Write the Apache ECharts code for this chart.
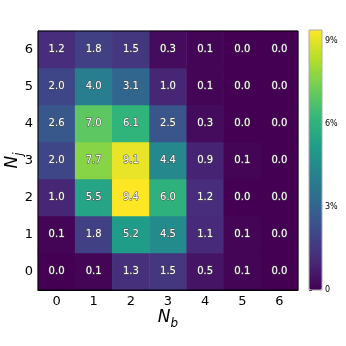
<!DOCTYPE html>
<html><head><meta charset="utf-8">
<script src="https://cdn.jsdelivr.net/npm/echarts@6/dist/echarts.min.js"></script>
<style>html,body{margin:0;padding:0;background:#fff}#c{width:346px;height:346px}</style>
</head><body><div id="c"></div>
<script>
var nbCategories = ['0','1','2','3','4','5','6'];
var njCategories = ['0','1','2','3','4','5','6'];
// rows indexed by Nj (0..6), columns by Nb (0..6)
var row0 = [0.0, 0.1, 1.3, 1.5, 0.5, 0.1, 0.0];
var row1 = [0.1, 1.8, 5.2, 4.5, 1.1, 0.1, 0.0];
var row2 = [1.0, 5.5, 9.4, 6.0, 1.2, 0.0, 0.0];
var row3 = [2.0, 7.7, 9.1, 4.4, 0.9, 0.1, 0.0];
var row4 = [2.6, 7.0, 6.1, 2.5, 0.3, 0.0, 0.0];
var row5 = [2.0, 4.0, 3.1, 1.0, 0.1, 0.0, 0.0];
var row6 = [1.2, 1.8, 1.5, 0.3, 0.1, 0.0, 0.0];
var colorbarTicks = [0, 3, 6, 9];
var colorMax = 9.4;

var rows = [row0, row1, row2, row3, row4, row5, row6];
var data = [];
rows.forEach(function (r, j) { r.forEach(function (v, b) { data.push([b, j, v]); }); });

var viridis = ['#440154','#482878','#3e4989','#31688e','#26828e','#1f9e89','#35b779','#6ece58','#b5de2b','#fde725'];
var font = 'DejaVu Sans';
var chart = echarts.init(document.getElementById('c'), null, {renderer: 'canvas'});
var richName = {
  n: {fontSize: 17, fontStyle: 'italic', fontFamily: font, color: '#000', verticalAlign: 'bottom', lineHeight: 20},
  s: {fontSize: 12, fontStyle: 'italic', fontFamily: font, color: '#000', verticalAlign: 'bottom', lineHeight: 20, padding: [0,0,-4,0]}
};
chart.setOption({
  animation: false,
  textStyle: {fontFamily: font},
  grid: [
    {left: 38, top: 31, width: 260, height: 259, containLabel: false, outerBoundsMode: 'none', show: true, borderColor: '#000', borderWidth: 1, z: 10, backgroundColor: 'transparent'},
    {left: 309, top: 30, width: 13, height: 260, containLabel: false, outerBoundsMode: 'none', show: true, borderColor: '#aaa', borderWidth: 1, z: 10, backgroundColor: 'transparent'}
  ],
  xAxis: [
    {type: 'category', gridIndex: 0, data: nbCategories, position: 'bottom',
     axisLine: {lineStyle: {color: '#000'}}, axisTick: {alignWithLabel: true, length: 4, lineStyle: {color: '#000'}},
     axisLabel: {color: '#000', fontSize: 13, margin: 5, fontFamily: font},
     splitLine: {show: false},
     name: '{n|N}{s|b}', nameLocation: 'middle', nameGap: 16, nameMoveOverlap: false,
     nameTextStyle: {rich: richName}},
    {type: 'value', gridIndex: 1, show: false, min: 0, max: 1}
  ],
  yAxis: [
    {type: 'category', gridIndex: 0, data: njCategories,
     axisLine: {lineStyle: {color: '#000'}}, axisTick: {alignWithLabel: true, length: 4, lineStyle: {color: '#000'}},
     axisLabel: {color: '#000', fontSize: 13, margin: 5, fontFamily: font},
     splitLine: {show: false},
     name: '{n|N}{s|j}', nameLocation: 'middle', nameGap: 17, nameRotate: 90, nameMoveOverlap: false,
     nameTextStyle: {rich: richName}},
    {type: 'value', gridIndex: 1, position: 'right', min: 0, max: colorMax, interval: 3,
     axisLine: {show: false}, axisTick: {show: true, length: 3, lineStyle: {color: '#000'}},
     splitLine: {show: false},
     axisLabel: {color: '#000', fontSize: 8, margin: 3, fontFamily: font, showMaxLabel: false,
       formatter: function (v) { return colorbarTicks.indexOf(v) < 0 ? '' : (v === 0 ? '0' : v + '%'); }}}
  ],
  visualMap: {
    type: 'continuous', min: 0, max: colorMax, calculable: false, show: true,
    seriesIndex: 0, left: 309, top: 30, itemWidth: 13, itemHeight: 260, padding: 0,
    text: null, showLabel: false, inRange: {color: viridis}, hoverLink: false
  },
  series: [{
    type: 'heatmap', xAxisIndex: 0, yAxisIndex: 0, data: data,
    label: {show: true, color: '#fff', fontSize: 10, fontFamily: font,
      textBorderColor: '#555', textBorderWidth: 1,
      formatter: function (p) { return p.value[2].toFixed(1); }},
    emphasis: {disabled: true}
  }]
});
</script></body></html>
